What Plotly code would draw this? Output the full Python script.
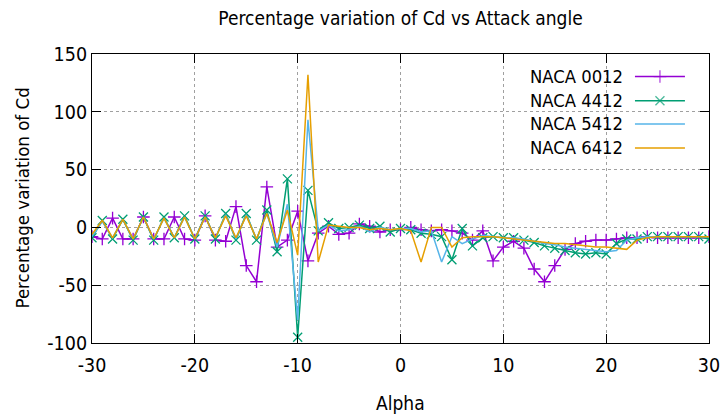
import plotly.graph_objects as go

alpha = list(range(-30, 31))

naca0012 = [-8, -10, 8, -10, -10, 9, -10, -10, 9, -10,
            -11, 10, -11, -12, 18, -33, -47, 35, -17, -11,
            14, -29, -5, 1, -6, -5, 3, 1, -4, -2,
            -2, 0, -2, -3, -2, -3, -5, -11, -3, -29,
            -17, -12, -18, -36, -47, -33, -19, -14, -12, -11,
            -11, -10, -9, -9, -8, -9, -9, -9, -9, -9, -8]

naca4412 = [-9, 6, -10, 7, -11, 9, -11, 9, -9, 10,
            -10, 10, -10, 12, -11, 12, -11, 15, -21, 42,
            -95, 32, -3, 4, -1, 0, 2, -1, 1, -4,
            -1, -2, -5, -6, -8, -28, -1, -16, -9, -8,
            -9, -9, -11, -13, -16, -18, -20, -22, -23, -22,
            -23, -14, -10, -10, -8, -8, -8, -8, -8, -8, -10]

naca5412 = [-8, 5, -9, 7, -10, 9, -10, 8, -9, 9,
            -10, 9, -9, 11, -10, 11, -10, 12, -17, 20,
            -80, 93, -3, 2, -3, -2, 1, -4, 0, -2,
            -1, -1, -4, -3, -30, -8, -14, -10, -7, -8,
            -9, -9, -10, -12, -14, -15, -17, -18, -19, -20,
            -21, -20, -11, -9, -8, -8, -8, -8, -8, -8, -8]

naca6412 = [-6, 6, -9, 7, -10, 9, -10, 8, -9, 9,
            -10, 9, -9, 10, -9, 10, -10, 12, -13, 15,
            -24, 132, -30, 2, 1, 0, 0, -2, -1, -2,
            -1, -3, -30, 0, 0, -17, -9, -8, -8, -8,
            -9, -10, -11, -12, -13, -14, -14, -15, -16, -17,
            -17, -18, -19, -11, -9, -8, -8, -8, -8, -8, -8]

x_ticks = [-30, -20, -10, 0, 10, 20, 30]
x_tick_labels = ["-30", "-20", "-10", "0", "10", "20", "30"]
y_ticks = [-100, -50, 0, 50, 100, 150]
y_tick_labels = ["-100", "-50", "0", "50", "100", "150"]

names = ["NACA 0012", "NACA 4412", "NACA 5412", "NACA 6412"]
colors = ["#9400D3", "#009E73", "#56B4E9", "#E69F00"]
symbols = ["cross-thin", "x-thin", None, None]
series = [naca0012, naca4412, naca5412, naca6412]

FONT = "DejaVu Sans Condensed, Liberation Sans, sans-serif"
fig = go.Figure()

for name, col, sym, vals in zip(names, colors, symbols, series):
    if sym:
        fig.add_trace(go.Scatter(
            x=alpha, y=vals, name=name, mode="lines+markers",
            line=dict(color=col, width=1.5),
            marker=dict(symbol=sym, size=9, color=col,
                        line=dict(color=col, width=1.3)),
            showlegend=False))
    else:
        fig.add_trace(go.Scatter(
            x=alpha, y=vals, name=name, mode="lines",
            line=dict(color=col, width=1.5), showlegend=False))

# custom gnuplot-style key (text right, sample line to its right)
key_x0, key_x1, key_text_x = 0.880, 0.961, 0.864
key_rows = [0.922, 0.838, 0.758, 0.675]
for name, col, sym, ky in zip(names, colors, symbols, key_rows):
    fig.add_trace(go.Scatter(
        x=[key_x0, (key_x0 + key_x1) / 2, key_x1], y=[ky, ky, ky],
        xaxis="x2", yaxis="y2", mode="lines+markers" if sym else "lines",
        line=dict(color=col, width=1.5),
        marker=dict(symbol=sym or "circle", size=[0, 9, 0], color=col,
                    line=dict(color=col, width=1.3)),
        showlegend=False, hoverinfo="skip"))
    fig.add_annotation(x=key_text_x, y=ky, xref="paper", yref="paper",
                       text=name, showarrow=False, xanchor="right",
                       yanchor="middle", font=dict(family=FONT, size=18.3, color="black"))

axis_common = dict(
    showline=True, linecolor="black", linewidth=1, mirror="ticks",
    ticks="inside", ticklen=9, tickcolor="black", tickwidth=1,
    showgrid=True, gridcolor="#a0a0a0", griddash="dot", gridwidth=1,
    zeroline=False, automargin=False,
    tickfont=dict(family=FONT, size=19.5, color="black"),
)

fig.update_layout(
    template="none",
    width=722, height=417,
    margin=dict(l=92, r=13, t=54, b=74),
    paper_bgcolor="white", plot_bgcolor="white",
    title=dict(text="Percentage variation of Cd vs Attack angle",
               x=0.5, xref="paper", y=1 - 18 / 417, yref="container",
               xanchor="center", yanchor="middle",
               font=dict(family=FONT, size=19, color="black")),
    xaxis=dict(range=[-30, 30], tickvals=x_ticks, ticktext=x_tick_labels,
               ticklabelstandoff=5, **axis_common),
    yaxis=dict(range=[-100, 150], tickvals=y_ticks, ticktext=y_tick_labels, **axis_common),
    xaxis2=dict(range=[0, 1], overlaying="x", visible=False),
    yaxis2=dict(range=[0, 1], overlaying="y", visible=False),
    showlegend=False,
)

fig.add_annotation(x=0.5, y=-(403 - 343) / 289, xref="paper", yref="paper",
                   text="Alpha", showarrow=False, xanchor="center", yanchor="middle",
                   font=dict(family=FONT, size=19, color="black"))
fig.add_annotation(x=(22 - 92) / 617, y=0.5, xref="paper", yref="paper",
                   text="Percentage variation of Cd", showarrow=False, textangle=-90,
                   xanchor="center", yanchor="middle",
                   font=dict(family=FONT, size=18.5, color="black"))

fig.write_html("out.html")
